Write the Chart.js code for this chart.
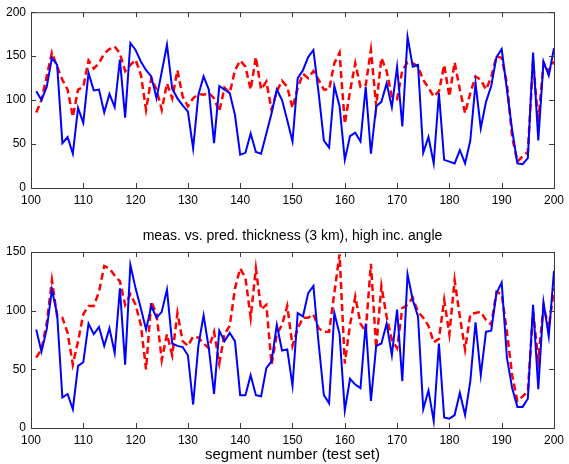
<!DOCTYPE html>
<html>
<head>
<meta charset="utf-8">
<script src="https://cdn.jsdelivr.net/npm/chart.js@4.4.0/dist/chart.umd.min.js"></script>
<style>
  body { margin: 0; background: #fff; width: 569px; height: 464px; position: relative; overflow: hidden; }
  #top { position: absolute; left: 0; top: 0; }
  #bottom { position: absolute; left: 0; top: 225px; }
</style>
</head>
<body>
<canvas id="top" width="569" height="205"></canvas>
<canvas id="bottom" width="569" height="239"></canvas>
<script>
// segment numbers 101..200
const segments = Array.from({ length: 100 }, (_, i) => 101 + i);
const xTicks = [100, 110, 120, 130, 140, 150, 160, 170, 180, 190, 200];
const yTicksTop = [0, 50, 100, 150, 200];
const yTicksBottom = [0, 50, 100, 150];

// top plot: measured (blue) and predicted (red dashed)
const measTop = [110, 100, 115, 148, 140, 51, 58, 39, 91, 74,
  131, 111, 112, 86, 107, 92, 146, 80, 165, 157,
  144, 134, 127, 102, 132, 163, 113, 102, 94, 87,
  45, 106, 127, 112, 51, 116, 112, 108, 83, 38,
  40, 62, 41, 39, 62, 85, 112, 100, 77, 53,
  125, 134, 149, 157, 108, 54, 46, 116, 93, 32,
  59, 63, 53, 115, 39, 93, 98, 119, 92, 138,
  70, 172, 138, 140, 40, 58, 28, 108, 32, 30,
  28, 43, 28, 54, 119, 68, 98, 116, 149, 158,
  112, 66, 28, 27, 34, 154, 54, 144, 128, 159];
const predTop = [86, 100, 127, 154, 138, 123, 112, 81, 112, 115,
  145, 136, 142, 153, 158, 161, 153, 133, 140, 146,
  129, 89, 125, 112, 89, 119, 102, 134, 104, 93,
  102, 107, 106, 108, 102, 87, 114, 108, 134, 145,
  138, 112, 149, 112, 121, 89, 110, 122, 115, 91,
  114, 130, 125, 133, 123, 112, 112, 142, 154, 73,
  110, 142, 115, 117, 157, 93, 148, 133, 104, 101,
  134, 143, 142, 138, 123, 114, 104, 110, 140, 104,
  143, 112, 85, 108, 127, 123, 112, 126, 150, 148,
  119, 58, 30, 36, 41, 144, 75, 142, 133, 144];

// bottom plot: 3 km, high incidence angle
const measBottom = [84, 65, 84, 118, 97, 26, 29, 16, 53, 56,
  89, 80, 86, 70, 85, 64, 119, 54, 139, 119,
  102, 84, 104, 94, 99, 118, 72, 70, 69, 62,
  20, 70, 96, 68, 29, 83, 74, 81, 74, 28,
  28, 45, 28, 27, 51, 57, 88, 66, 67, 36,
  98, 95, 115, 121, 72, 28, 21, 98, 80, 15,
  42, 37, 34, 89, 23, 70, 72, 89, 62, 101,
  40, 131, 109, 95, 16, 32, 6, 72, 9, 8,
  11, 30, 11, 40, 90, 45, 82, 83, 115, 124,
  60, 34, 18, 18, 25, 105, 33, 107, 78, 134];
const predBottom = [60, 67, 89, 126, 95, 94, 81, 54, 74, 97,
  104, 104, 116, 138, 136, 130, 125, 105, 114, 105,
  88, 50, 108, 97, 58, 80, 62, 98, 74, 70,
  78, 77, 72, 68, 82, 55, 80, 87, 119, 136,
  128, 94, 136, 101, 105, 54, 80, 88, 104, 70,
  85, 94, 94, 97, 85, 82, 82, 115, 148, 55,
  88, 112, 89, 82, 140, 68, 121, 95, 75, 68,
  102, 105, 111, 99, 94, 87, 73, 76, 109, 80,
  126, 95, 67, 97, 98, 99, 92, 88, 116, 114,
  82, 45, 23, 27, 31, 99, 58, 104, 85, 119];

const family = "'Liberation Sans', Arial, Helvetica, sans-serif";
const font = { family, size: 12 };

// box round the axes with inward tick marks on all four sides (matlab look)
const boxTicks = {
  id: 'boxTicks',
  afterDraw(chart) {
    const { ctx, chartArea: a, scales: { x, y } } = chart;
    ctx.save();
    ctx.strokeStyle = '#3a3a3a';
    ctx.lineWidth = 1;
    ctx.strokeRect(a.left + 0.5, a.top + 0.5, a.right - a.left, a.bottom - a.top);
    ctx.beginPath();
    x.ticks.forEach(t => {
      const px = Math.round(x.getPixelForValue(t.value)) + 0.5;
      ctx.moveTo(px, a.bottom); ctx.lineTo(px, a.bottom - 5);
      ctx.moveTo(px, a.top); ctx.lineTo(px, a.top + 5);
    });
    y.ticks.forEach(t => {
      const py = Math.round(y.getPixelForValue(t.value)) + 0.5;
      ctx.moveTo(a.left, py); ctx.lineTo(a.left + 5, py);
      ctx.moveTo(a.right, py); ctx.lineTo(a.right - 5, py);
    });
    ctx.stroke();
    ctx.restore();
  }
};

function pts(vals) {
  return segments.map((s, i) => ({ x: s, y: vals[i] }));
}

function makeChart(id, meas, pred, yMax, yTicks, opts) {
  return new Chart(document.getElementById(id), {
    type: 'line',
    data: {
      datasets: [
        { data: pts(meas), borderColor: '#0000ff', borderWidth: 2, pointRadius: 0, tension: 0 },
        { data: pts(pred), borderColor: '#ff0000', borderWidth: 2.5, borderDash: [7, 4], pointRadius: 0, tension: 0 }
      ]
    },
    options: {
      responsive: false,
      animation: false,
      layout: { padding: { left: 0, right: 12, top: opts.padTop, bottom: 0 } },
      plugins: {
        legend: { display: false },
        tooltip: { enabled: false },
        title: opts.title
      },
      scales: {
        x: {
          type: 'linear', min: 100, max: 200,
          afterBuildTicks: s => { s.ticks = xTicks.map(v => ({ value: v })); },
          afterFit: s => { s.height = opts.xHeight; },
          grid: { display: false, drawTicks: false },
          border: { display: false },
          ticks: { color: '#000', font, padding: 5, maxRotation: 0 },
          title: opts.xTitle
        },
        y: {
          min: 0, max: yMax,
          afterBuildTicks: s => { s.ticks = yTicks.map(v => ({ value: v })); },
          afterFit: s => { s.width = 31; },
          grid: { display: false, drawTicks: false },
          border: { display: false },
          ticks: { color: '#000', font, padding: 5 }
        }
      }
    },
    plugins: [boxTicks]
  });
}

makeChart('top', measTop, predTop, 200, yTicksTop, {
  padTop: 12, xHeight: 17,
  title: { display: false },
  xTitle: { display: false }
});

makeChart('bottom', measBottom, predBottom, 150, yTicksBottom, {
  padTop: 0, xHeight: 36,
  title: {
    display: true, fullSize: false,
    text: 'meas. vs. pred. thickness (3 km), high inc. angle',
    color: '#000', font: { family, size: 14, weight: 'normal', lineHeight: 1.2 },
    padding: { top: 3, bottom: 7.2 }
  },
  xTitle: {
    display: true, text: 'segment number (test set)', color: '#000',
    font: { family, size: 15, lineHeight: 1.2 },
    padding: { top: 0, bottom: 0 }
  }
});
</script>
</body>
</html>
